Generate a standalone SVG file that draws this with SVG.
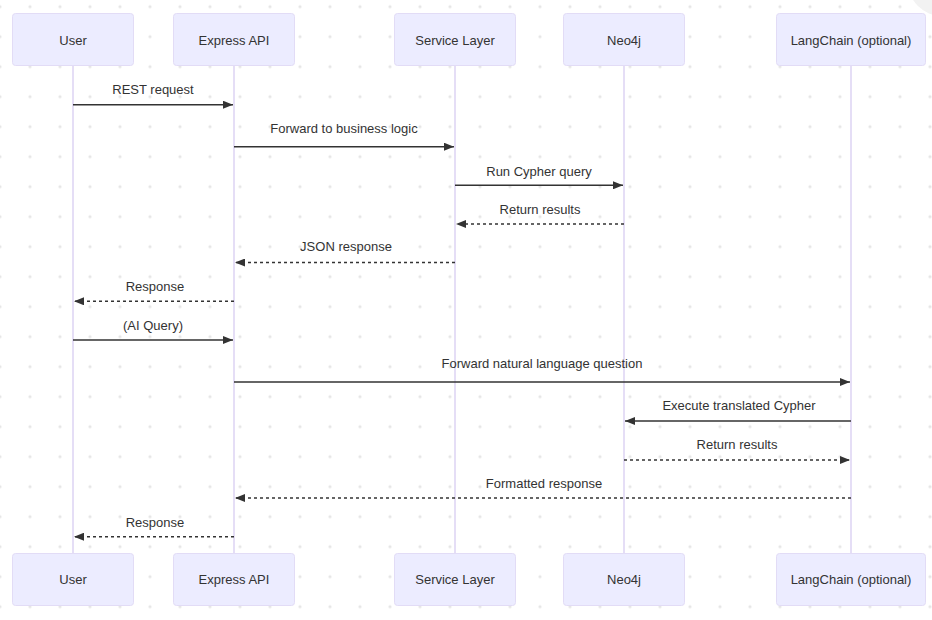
<svg xmlns="http://www.w3.org/2000/svg" width="932" height="620" viewBox="0 0 932 620">
<style>
.actor rect{fill:#ECECFF;stroke:#e2dcf6;stroke-width:1}
.actor text{font-family:"Liberation Sans",Arial,sans-serif;font-size:13px;fill:#333;text-anchor:middle}
.life{stroke:#dcd3f3;stroke-width:1.5}
.msg{stroke:#333;stroke-width:1.5;fill:none}
.dash{stroke-dasharray:3,3}
.lbl{font-family:"Liberation Sans",Arial,sans-serif;font-size:13px;fill:#333;text-anchor:middle}
</style>
<defs>
<pattern id="dots" patternUnits="userSpaceOnUse" x="-15" y="-8.33" width="30" height="30">
<circle cx="15" cy="15" r="1.6" fill="#e6e6e6"/>
</pattern>
<marker id="ah" viewBox="0 0 10 8" refX="10" refY="4" markerWidth="10" markerHeight="8" markerUnits="userSpaceOnUse" orient="auto">
<path d="M0,0 L10,4 L0,8 Z" fill="#333"/>
</marker>
</defs>
<rect width="932" height="620" fill="#fff"/>
<rect width="932" height="620" fill="url(#dots)"/>
<circle cx="942" cy="-18" r="34" fill="#f2f2f2"/>
<g id="lifelines">
<line class="life" x1="73" y1="65" x2="73" y2="553"/>
<line class="life" x1="234" y1="65" x2="234" y2="553"/>
<line class="life" x1="455" y1="65" x2="455" y2="553"/>
<line class="life" x1="624" y1="65" x2="624" y2="553"/>
<line class="life" x1="851" y1="65" x2="851" y2="553"/>
</g>
<g id="user" class="actor">
<rect x="12.5" y="13.5" width="121" height="52" rx="3"/><text x="73" y="44.5">User</text>
<rect x="12.5" y="553.5" width="121" height="52" rx="3"/><text x="73" y="584">User</text>
</g>
<g id="express" class="actor">
<rect x="173.5" y="13.5" width="121" height="52" rx="3"/><text x="234" y="44.5">Express API</text>
<rect x="173.5" y="553.5" width="121" height="52" rx="3"/><text x="234" y="584">Express API</text>
</g>
<g id="service" class="actor">
<rect x="394.5" y="13.5" width="121" height="52" rx="3"/><text x="455" y="44.5">Service Layer</text>
<rect x="394.5" y="553.5" width="121" height="52" rx="3"/><text x="455" y="584">Service Layer</text>
</g>
<g id="neo4j" class="actor">
<rect x="563.5" y="13.5" width="121" height="52" rx="3"/><text x="624" y="44.5">Neo4j</text>
<rect x="563.5" y="553.5" width="121" height="52" rx="3"/><text x="624" y="584">Neo4j</text>
</g>
<g id="langchain" class="actor">
<rect x="776.5" y="13.5" width="149" height="52" rx="3"/><text x="851" y="44.5">LangChain (optional)</text>
<rect x="776.5" y="553.5" width="149" height="52" rx="3"/><text x="851" y="584">LangChain (optional)</text>
</g>
<g id="connectors">
<line class="msg" x1="73" y1="104.7" x2="233" y2="104.7" marker-end="url(#ah)"/>
<text class="lbl" x="153" y="94">REST request</text>
<line class="msg" x1="234" y1="146.7" x2="454" y2="146.7" marker-end="url(#ah)"/>
<text class="lbl" x="344" y="132.7">Forward to business logic</text>
<line class="msg" x1="455" y1="185.3" x2="623" y2="185.3" marker-end="url(#ah)"/>
<text class="lbl" x="539" y="175.5">Run Cypher query</text>
<line class="msg dash" x1="624" y1="224" x2="456" y2="224" marker-end="url(#ah)"/>
<text class="lbl" x="540" y="213.5">Return results</text>
<line class="msg dash" x1="455" y1="262.5" x2="235" y2="262.5" marker-end="url(#ah)"/>
<text class="lbl" x="346" y="251">JSON response</text>
<line class="msg dash" x1="234" y1="301.3" x2="74" y2="301.3" marker-end="url(#ah)"/>
<text class="lbl" x="155" y="291">Response</text>
<line class="msg" x1="73" y1="340" x2="233" y2="340" marker-end="url(#ah)"/>
<text class="lbl" x="153" y="330">(AI Query)</text>
<line class="msg" x1="234" y1="382" x2="850" y2="382" marker-end="url(#ah)"/>
<text class="lbl" x="542" y="368.3">Forward natural language question</text>
<line class="msg" x1="851" y1="421" x2="625" y2="421" marker-end="url(#ah)"/>
<text class="lbl" x="739" y="410">Execute translated Cypher</text>
<line class="msg dash" x1="624" y1="460" x2="850" y2="460" marker-end="url(#ah)"/>
<text class="lbl" x="737" y="448.5">Return results</text>
<line class="msg dash" x1="851" y1="498" x2="235" y2="498" marker-end="url(#ah)"/>
<text class="lbl" x="544" y="488">Formatted response</text>
<line class="msg dash" x1="234" y1="536.7" x2="74" y2="536.7" marker-end="url(#ah)"/>
<text class="lbl" x="155" y="526.7">Response</text>
</g>
</svg>
